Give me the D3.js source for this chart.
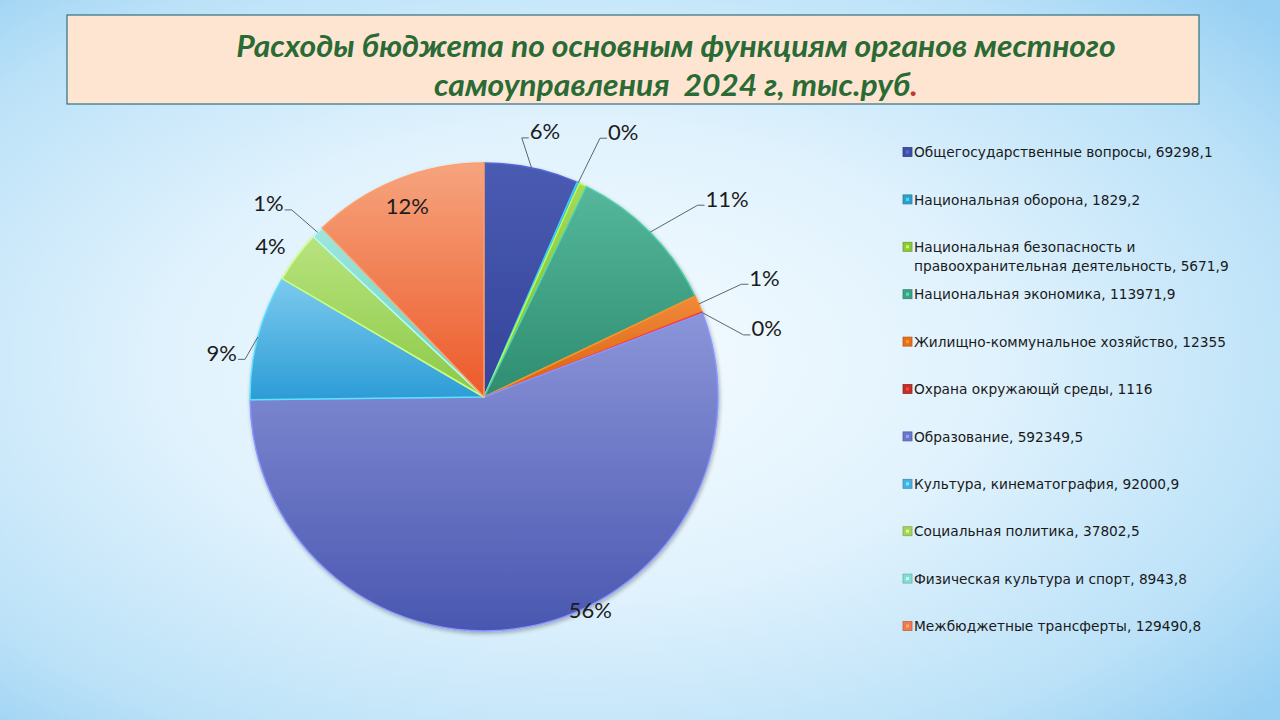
<!DOCTYPE html>
<html><head><meta charset="utf-8">
<script src="https://cdn.jsdelivr.net/npm/d3@7"></script>
<style>body{margin:0;overflow:hidden;background:#fff}</style>
</head><body>
<svg id="c" width="1280" height="720"></svg>
<script>
const categories = [
  "Общегосударственные вопросы",
  "Национальная оборона",
  "Национальная безопасность и правоохранительная деятельность",
  "Национальная экономика",
  "Жилищно-коммунальное хозяйство",
  "Охрана окружающй среды",
  "Образование",
  "Культура, кинематография",
  "Социальная политика",
  "Физическая культура и спорт",
  "Межбюджетные трансферты"
];
const values = [69298.1, 1829.2, 5671.9, 113971.9, 12355, 1116, 592349.5, 92000.9, 37802.5, 8943.8, 129490.8];
const percentLabels = ["6%", "0%", null, "11%", "1%", "0%", "56%", "9%", "4%", "1%", "12%"];
const titleLines = ["Расходы бюджета по основным функциям органов местного", "самоуправления  2024 г, тыс.руб"];

// styles
const colors = ["#3f4fa6","#2f9fc8","#8cc83c","#3ea286","#e8701c","#c0302a","#6a76c8","#4ab0e0","#a2d55e","#86dccf","#f07a50"];
const topTints = ["#4a5bb2","#4fb6da","#a6d95a","#55b79b","#f08a3a","#d44a40","#8b95d9","#7ccaee","#b8e37e","#a0e6dc","#f6a47e"];
const botTints = ["#34449a","#2589b4","#78b82c","#2e8d70","#d8600e","#a82420","#4a57b0","#2c9cd6","#8cc948","#6ccbbd","#ec5a2a"];
const labelLayout = [
  {da:1.2, r:273, line:true}, {da:3.9, r:300, line:true}, null,
  {da:5.5, r:314, line:true}, {da:0.3, r:305, line:true}, {da:7.4, r:291, line:true},
  {da:-15.7, r:238, line:false}, {da:-5.2, r:266, line:true}, {da:-1.4, r:262, line:false},
  {da:-2.7, r:290, line:true}, {da:0, r:206, line:false}
];

const svg = d3.select("#c");
const defs = svg.append("defs");

const bg = defs.append("radialGradient").attr("id","bg").attr("cx","0.45").attr("cy","0.5").attr("r","0.72");
bg.append("stop").attr("offset","0").attr("stop-color","#f6fcff");
bg.append("stop").attr("offset","0.45").attr("stop-color","#e0f2fd");
bg.append("stop").attr("offset","0.8").attr("stop-color","#bce2f8");
bg.append("stop").attr("offset","1").attr("stop-color","#98d0f3");
svg.append("rect").attr("width",1280).attr("height",720).attr("fill","url(#bg)");

// title box
svg.append("rect").attr("x",67).attr("y",15).attr("width",1132).attr("height",89)
  .attr("fill","#fde5d2").attr("stroke","#2f6f80").attr("stroke-width",1.2);
const tg = svg.append("g");
const titleFont = "Lato, 'Open Sans', sans-serif";
const t1 = tg.append("text").attr("x",676).attr("y",57).attr("text-anchor","middle")
  .attr("font-family",titleFont).attr("font-weight","bold").attr("font-style","italic")
  .attr("font-size",30).attr("fill","#2a6a34").text(titleLines[0]);
const t2 = tg.append("text").attr("x",676).attr("y",96).attr("text-anchor","middle")
  .attr("font-family",titleFont).attr("font-weight","bold").attr("font-style","italic")
  .attr("font-size",30).attr("fill","#2a6a34").style("white-space","pre");
t2.append("tspan").text(titleLines[1]);
t2.append("tspan").attr("fill","#c0392b").text(".");
const k = 880 / t1.node().getComputedTextLength();
tg.attr("transform", `translate(676,0) scale(${k},1) translate(-676,0)`);

// pie
const cx = 484, cy = 397, R = 234;
const pie = d3.pie().sort(null).value(d => d).startAngle(0).endAngle(2*Math.PI);
const arcs = pie(values);
const arc = d3.arc().innerRadius(0).outerRadius(R);

colors.forEach((c,i) => {
  const g = defs.append("linearGradient").attr("id","g"+i).attr("x1",0).attr("y1",0).attr("x2",0).attr("y2",1);
  g.append("stop").attr("offset","0").attr("stop-color",topTints[i]);
  g.append("stop").attr("offset","1").attr("stop-color",botTints[i]);
});
const sh = defs.append("filter").attr("id","sh").attr("x","-10%").attr("y","-10%").attr("width","120%").attr("height","120%");
sh.append("feGaussianBlur").attr("in","SourceAlpha").attr("stdDeviation",2).attr("result","b");
sh.append("feOffset").attr("dx",1).attr("dy",2).attr("result","o");
sh.append("feComponentTransfer").append("feFuncA").attr("type","linear").attr("slope",0.3);
const m = sh.append("feMerge"); m.append("feMergeNode"); m.append("feMergeNode").attr("in","SourceGraphic");

const pg = svg.append("g").attr("transform",`translate(${cx},${cy})`).attr("filter","url(#sh)");
pg.selectAll("path.s").data(arcs).join("path").attr("class","s")
  .attr("d", arc)
  .attr("fill",(d,i)=>"url(#g"+i+")")
  .attr("stroke",(d,i)=>d3.color(colors[i]).brighter(0.7))
  .attr("stroke-width",1.5)
  .attr("stroke-linejoin","round");

// labels
const lg = svg.append("g").attr("transform",`translate(${cx},${cy})`);
arcs.forEach((a,i) => {
  const txt = percentLabels[i]; const L = labelLayout[i];
  if (!txt || !L) return;
  const mid = (a.startAngle + a.endAngle)/2;
  const ang = mid + L.da*Math.PI/180;
  const lx = L.r*Math.sin(ang), ly = -L.r*Math.cos(ang);
  const t = lg.append("text").attr("x",lx).attr("y",ly).attr("text-anchor","middle")
    .attr("dominant-baseline","central").attr("font-family","Lato, 'Open Sans', sans-serif")
    .attr("font-size",22).attr("fill","#1c1c1c").text(txt);
  if (L.line) {
    const bb = t.node().getBBox();
    const sx = R*Math.sin(mid), sy = -R*Math.cos(mid);
    const right = lx >= 0;
    const ex = right ? bb.x - 1 : bb.x + bb.width + 1;
    const ey = ly + 7;
    const elbow = right ? ex - 7 : ex + 7;
    lg.insert("path","text").attr("d",`M${sx},${sy}L${elbow},${ey}L${ex},${ey}`)
      .attr("fill","none").attr("stroke","#5a6570").attr("stroke-width",1);
  }
});

// legend
const leg = svg.append("g");
const rowY = i => 152 + i*47.4;
const legFont = "'DejaVu Sans', Verdana, sans-serif";
const fmt = v => String(v).replace(".", ",");
const fs = 14.5;
const probe = leg.append("text").attr("font-family",legFont).attr("font-size",fs).text(categories[0]+", "+fmt(values[0]));
const lk = 299 / probe.node().getComputedTextLength();
probe.remove();
const maxW = 322 / lk;
categories.forEach((c,i) => {
  const y = rowY(i);
  leg.append("rect").attr("x",903).attr("y",y-4.5).attr("width",9).attr("height",9)
    .attr("fill",colors[i]).attr("stroke",d3.color(colors[i]).darker(0.6)).attr("stroke-width",0.8);
  leg.append("rect").attr("x",906).attr("y",y-1.5).attr("width",3).attr("height",3)
    .attr("fill",d3.color(colors[i]).brighter(0.9));
  const full = c + ", " + fmt(values[i]);
  const t = leg.append("text").attr("x",914).attr("y",y).attr("dominant-baseline","central")
    .attr("font-family",legFont).attr("font-size",fs).attr("fill","#1a1a1a")
    .attr("transform",`translate(914,0) scale(${lk},1) translate(-914,0)`);
  const words = full.split(" ");
  let line = [], ts = t.append("tspan").attr("x",914).attr("y",y);
  let ln = 0;
  words.forEach(w => {
    line.push(w); ts.text(line.join(" "));
    if (ts.node().getComputedTextLength() > maxW && line.length > 1) {
      line.pop(); ts.text(line.join(" "));
      line = [w]; ln++;
      ts = t.append("tspan").attr("x",914).attr("y",y + ln*19).text(w);
    }
  });
});
</script>
</body></html>
